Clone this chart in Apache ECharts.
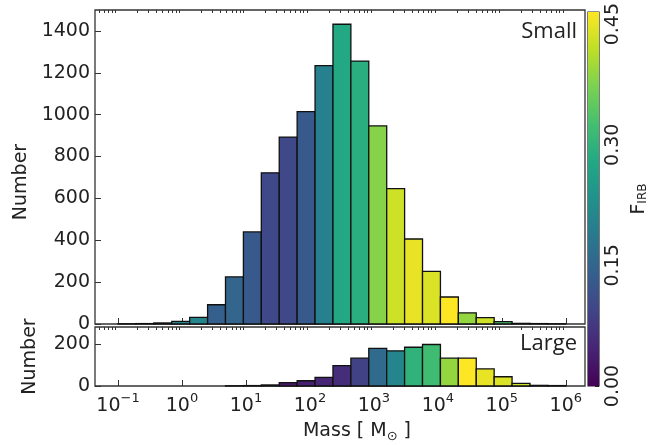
<!DOCTYPE html>
<html><head><meta charset="utf-8">
<script src="https://cdn.jsdelivr.net/npm/echarts@6/dist/echarts.min.js"></script>
<style>html,body{margin:0;padding:0;background:#fff}#c{width:666px;height:445px}</style>
</head><body><div id="c"></div>
<script>
// log10(Mass / Msun) bin edges (25 bins)
const binEdges = [-1.00,-0.72,-0.44,-0.16,0.12,0.40,0.68,0.96,1.24,1.52,1.80,2.08,2.36,2.64,2.92,3.20,3.48,3.76,4.04,4.32,4.60,4.88,5.16,5.44,5.72,6.00];
const smallCounts = [1,2,5,13,32,92,225,440,722,893,1015,1234,1432,1256,946,647,406,251,129,53,30,11,3,2,1];
const smallFirb   = [0.23,0.23,0.21,0.21,0.21,0.14,0.15,0.13,0.10,0.10,0.13,0.20,0.28,0.29,0.38,0.43,0.45,0.44,0.465,0.39,0.43,0.33,0.30,0.28,0.28];
const largeCounts = [0,0,0,0,0,0,1,2,5,16,25,41,97,132,179,167,184,197,132,132,81,44,12,3,2];
const largeFirb   = [0,0,0,0,0,0,0.02,0.02,0.02,0.03,0.04,0.05,0.06,0.09,0.16,0.21,0.30,0.32,0.39,0.465,0.45,0.44,0.43,0.42,0.42];
const xMajorTicks = [-1,0,1,2,3,4,5,6];
const cbTicks = [0.00,0.15,0.30,0.45];
const cbRange = [0, 0.465];
const viridis = ['#440154','#482475','#414487','#355f8d','#2a788e','#21918c','#22a884','#44bf70','#7ad151','#bddf26','#fde725'];

const xMin = -1.36, xMax = 6.3;
const xMinor = [];
for (let n = -2; n <= 6; n++) for (let m = 2; m <= 9; m++) {
  const v = n + Math.log10(m);
  if (v > xMin && v < xMax) xMinor.push(v);
}
const cbMinor = [];
for (let i = 0; i <= 12; i++) cbMinor.push(i * 0.0375);

function rows(counts, firb) {
  const out = [];
  for (let i = 0; i < counts.length; i++) if (counts[i] > 0) out.push([binEdges[i], binEdges[i+1], counts[i], firb[i]]);
  return out;
}
function barItem(params, api) {
  const p0 = api.coord([api.value(0), api.value(2)]);
  const p1 = api.coord([api.value(1), 0]);
  return {type:'rect', shape:{x:p0[0], y:p0[1], width:p1[0]-p0[0], height:p1[1]-p0[1]},
    style:{fill: api.visual('color'), stroke:'#111', lineWidth:1.3}};
}
const font = 'DejaVu Sans';
const tickLabel = {fontFamily:font, fontSize:19, color:'#222'};
const supFmt = v => { const s = v < 0 ? '\u2212' + Math.abs(v) : String(v); return '{b|10}{s|' + s + '}'; };
const plainFmt = v => String(v);

const chart = echarts.init(document.getElementById('c'), null, {renderer:'canvas'});
chart.setOption({
  animation:false,
  backgroundColor:'#fff',
  grid:[
    {left:95, top:10, width:490, height:314, show:true, borderColor:'#333', borderWidth:1.3, backgroundColor:'transparent'},
    {left:95, top:327, width:490, height:59, show:true, borderColor:'#333', borderWidth:1.3, backgroundColor:'transparent'},
    {left:588, top:10, width:11, height:376, show:true, borderColor:'#222', borderWidth:1.2, backgroundColor:'transparent'}
  ],
  xAxis:[
    {gridIndex:0, type:'value', min:xMin, max:xMax, axisLine:{show:false, onZero:false}, splitLine:{show:false},
     axisTick:{inside:true, length:6, customValues:xMajorTicks, lineStyle:{color:'#333'}}, axisLabel:{show:false}},
    {gridIndex:0, type:'value', min:xMin, max:xMax, axisLine:{show:false, onZero:false}, splitLine:{show:false},
     axisTick:{inside:true, length:3, customValues:xMinor, lineStyle:{color:'#333'}}, axisLabel:{show:false}},
    {gridIndex:1, type:'value', min:xMin, max:xMax, axisLine:{show:false, onZero:false}, splitLine:{show:false},
     axisTick:{inside:true, length:6, customValues:xMajorTicks, lineStyle:{color:'#333'}},
     axisLabel:{customValues:xMajorTicks, margin:6, formatter:supFmt,
       rich:{b:{fontFamily:font, fontSize:19, color:'#222', lineHeight:24, verticalAlign:'bottom'},
             s:{fontFamily:font, fontSize:13, color:'#222', lineHeight:14, verticalAlign:'top'}}},
     name:'Mass [ M{sub|\u2299} ]', nameLocation:'middle', nameGap:34,
     nameTextStyle:{fontFamily:font, fontSize:19, color:'#222', padding:[0,0,0,34],
       rich:{sub:{fontFamily:font, fontSize:13, color:'#222', padding:[10,0,0,0]}}}},
    {gridIndex:1, type:'value', min:xMin, max:xMax, axisLine:{show:false, onZero:false}, splitLine:{show:false},
     axisTick:{inside:true, length:3, customValues:xMinor, lineStyle:{color:'#333'}}, axisLabel:{show:false}},
    {gridIndex:2, type:'value', min:0, max:1, show:false}
  ],
  yAxis:[
    {gridIndex:0, type:'value', min:0, max:1500, interval:200, axisLine:{show:false, onZero:false}, splitLine:{show:false},
     axisTick:{inside:true, length:6, lineStyle:{color:'#333'}}, axisLabel:Object.assign({margin:5, showMaxLabel:false, formatter:plainFmt}, tickLabel),
     name:'Number', nameLocation:'middle', nameGap:55, nameTextStyle:{fontFamily:font, fontSize:19, color:'#222', padding:[0,30,0,0]}},
    {gridIndex:1, type:'value', min:0, max:280, interval:200, axisLine:{show:false, onZero:false}, splitLine:{show:false},
     axisTick:{inside:true, length:6, lineStyle:{color:'#333'}}, axisLabel:Object.assign({margin:5, showMaxLabel:false, formatter:plainFmt}, tickLabel),
     name:'Number', nameLocation:'middle', nameGap:55, nameTextStyle:{fontFamily:font, fontSize:19, color:'#222'}},
    {gridIndex:2, type:'value', position:'right', min:cbRange[0], max:cbRange[1], axisLine:{show:false, onZero:false}, splitLine:{show:false},
     axisTick:{inside:true, length:4, customValues:cbTicks, lineStyle:{color:'#222'}},
     axisLabel:Object.assign({customValues:cbTicks, rotate:90, margin:5, formatter:v=>v.toFixed(2)}, tickLabel),
     name:'{F|F}{s|IRB}', nameLocation:'middle', nameGap:30,
     nameTextStyle:{rich:{F:{fontFamily:font, fontSize:19, color:'#222'}, s:{fontFamily:font, fontSize:12, color:'#222', padding:[8,0,0,0]}}}},
    {gridIndex:2, type:'value', position:'right', min:cbRange[0], max:cbRange[1], axisLine:{show:false, onZero:false}, splitLine:{show:false},
     axisTick:{inside:true, length:3, customValues:cbMinor, lineStyle:{color:'#222'}}, axisLabel:{show:false}}
  ],
  visualMap:{show:false, type:'continuous', seriesIndex:[0,1], dimension:3, min:cbRange[0], max:cbRange[1], inRange:{color:viridis}},
  series:[
    {type:'custom', coordinateSystem:'cartesian2d', xAxisIndex:0, yAxisIndex:0, data:rows(smallCounts, smallFirb), encode:{x:[0,1], y:2}, renderItem:barItem, z:3},
    {type:'custom', coordinateSystem:'cartesian2d', xAxisIndex:2, yAxisIndex:1, data:rows(largeCounts, largeFirb), encode:{x:[0,1], y:2}, renderItem:barItem, z:3},
    {type:'custom', coordinateSystem:'cartesian2d', xAxisIndex:4, yAxisIndex:2, data:[[0, cbRange[0], cbRange[1]]], encode:{y:[1,2]},
     renderItem:function(params, api){
       const top = api.coord([0, api.value(2)]), bot = api.coord([0, api.value(1)]);
       const cs = params.coordSys;
       return {type:'rect', shape:{x:cs.x, y:top[1], width:cs.width, height:bot[1]-top[1]},
         style:{fill:new echarts.graphic.LinearGradient(0,1,0,0, viridis.map((c,i)=>({offset:i/(viridis.length-1), color:c})))}};
     }, z:1}
  ],
  graphic:[
    {type:'text', right:89, top:21, style:{text:'Small', fontFamily:'Open Sans', fontSize:22, fill:'#222'}},
    {type:'text', right:89, top:333, style:{text:'Large', fontFamily:'Open Sans', fontSize:22, fill:'#222'}}
  ]
});
</script></body></html>
